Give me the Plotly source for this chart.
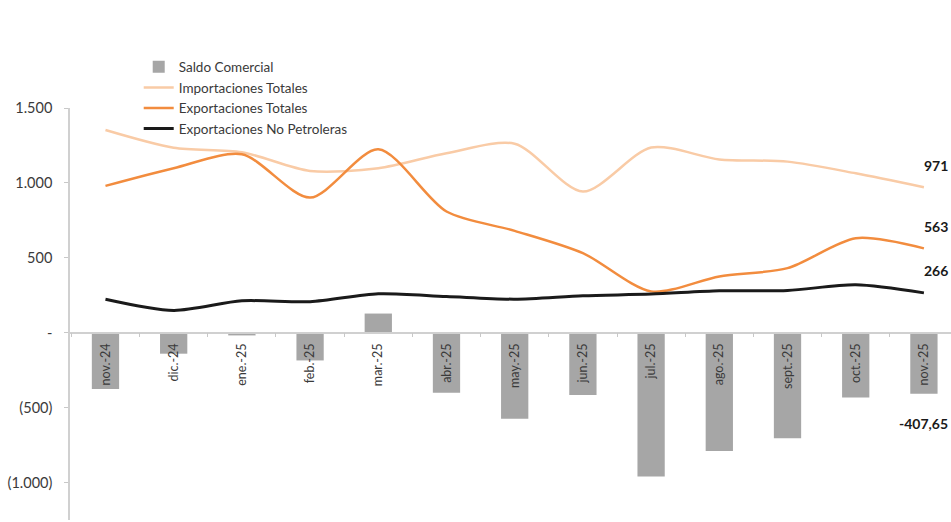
import plotly.graph_objects as go

categorias = ["nov.-24", "dic.-24", "ene.-25", "feb.-25", "mar.-25", "abr.-25", "may.-25",
              "jun.-25", "jul.-25", "ago.-25", "sept.-25", "oct.-25", "nov.-25"]
saldo_comercial = [-375, -140, -18, -185, 128, -400, -575, -415, -960, -790, -705, -433, -407.65]
importaciones_totales = [1353, 1235, 1205, 1080, 1098, 1198, 1262, 942, 1236, 1157, 1142, 1064, 971]
exportaciones_totales = [980, 1098, 1191, 902, 1224, 809, 680, 531, 276, 376, 431, 631, 563]
exportaciones_no_petroleras = [224, 149, 213, 207, 260, 242, 224, 247, 258, 280, 282, 320, 266]

y_tick_vals = [1500, 1000, 500, 0, -500, -1000]
y_tick_text = ["1.500", "1.000", "500", "-", "(500)", "(1.000)"]

FONT = "Lato, 'Open Sans', sans-serif"
TXT = "#3A3A3A"

fig = go.Figure()
fig.add_trace(go.Bar(x=categorias, y=saldo_comercial, name="Saldo Comercial",
                     marker=dict(color="#A6A6A6", line=dict(width=0)), width=0.4))
fig.add_trace(go.Scatter(x=categorias, y=importaciones_totales, name="Importaciones Totales",
                         mode="lines", line=dict(color="#F9CBA6", width=2.5, shape="spline", smoothing=0.8)))
fig.add_trace(go.Scatter(x=categorias, y=exportaciones_totales, name="Exportaciones Totales",
                         mode="lines", line=dict(color="#F28C3E", width=2.5, shape="spline", smoothing=0.8)))
fig.add_trace(go.Scatter(x=categorias, y=exportaciones_no_petroleras, name="Exportaciones No Petroleras",
                         mode="lines", line=dict(color="#1A1A1A", width=3, shape="spline", smoothing=0.8)))

def fmt(v):
    if float(v).is_integer():
        return f"{int(v)}"
    return f"{v:.2f}".replace(".", ",")

ends = [
    (importaciones_totales[-1], 22),
    (exportaciones_totales[-1], 22),
    (exportaciones_no_petroleras[-1], 22),
    (saldo_comercial[-1], -30),
]
for val, ys in ends:
    fig.add_annotation(xref="paper", x=1, y=val, text=f"<b>{fmt(val)}</b>", showarrow=False,
                       xanchor="right", yanchor="middle", xshift=-1, yshift=ys,
                       font=dict(family=FONT, size=14, color="#1A1A1A"))

fig.update_layout(
    width=951, height=522,
    margin=dict(l=70, r=0, t=108, b=2),
    paper_bgcolor="white", plot_bgcolor="white",
    font=dict(family=FONT, color=TXT),
    showlegend=True,
    legend=dict(x=0.078, y=1.137, xanchor="left", yanchor="top",
                font=dict(family=FONT, size=13.5, color=TXT),
                bgcolor="rgba(0,0,0,0)", itemwidth=30, tracegroupgap=0),
    hovermode=False,
)
fig.update_xaxes(
    type="category", range=[-0.52, 12.397],
    anchor="free", position=1250 / 2750,
    showline=True, linecolor="#D0D0D0", linewidth=1.5,
    ticks="outside", tickson="boundaries", ticklen=4, tickcolor="#C8C8C8",
    ticklabelstandoff=5,
    tickangle=-90, tickfont=dict(family=FONT, size=12.5, color=TXT),
    showgrid=False, zeroline=False,
)
fig.update_yaxes(
    range=[-1250, 1500],
    tickvals=y_tick_vals, ticktext=y_tick_text,
    showline=True, linecolor="#D0D0D0", linewidth=1.5,
    ticks="outside", ticklen=4, tickcolor="#C8C8C8", ticklabelstandoff=9,
    tickfont=dict(family=FONT, size=14.5, color=TXT),
    showgrid=False, zeroline=False,
)

fig.write_html("out.html", config={"displayModeBar": False},
               post_script="document.body.style.margin='0';")
